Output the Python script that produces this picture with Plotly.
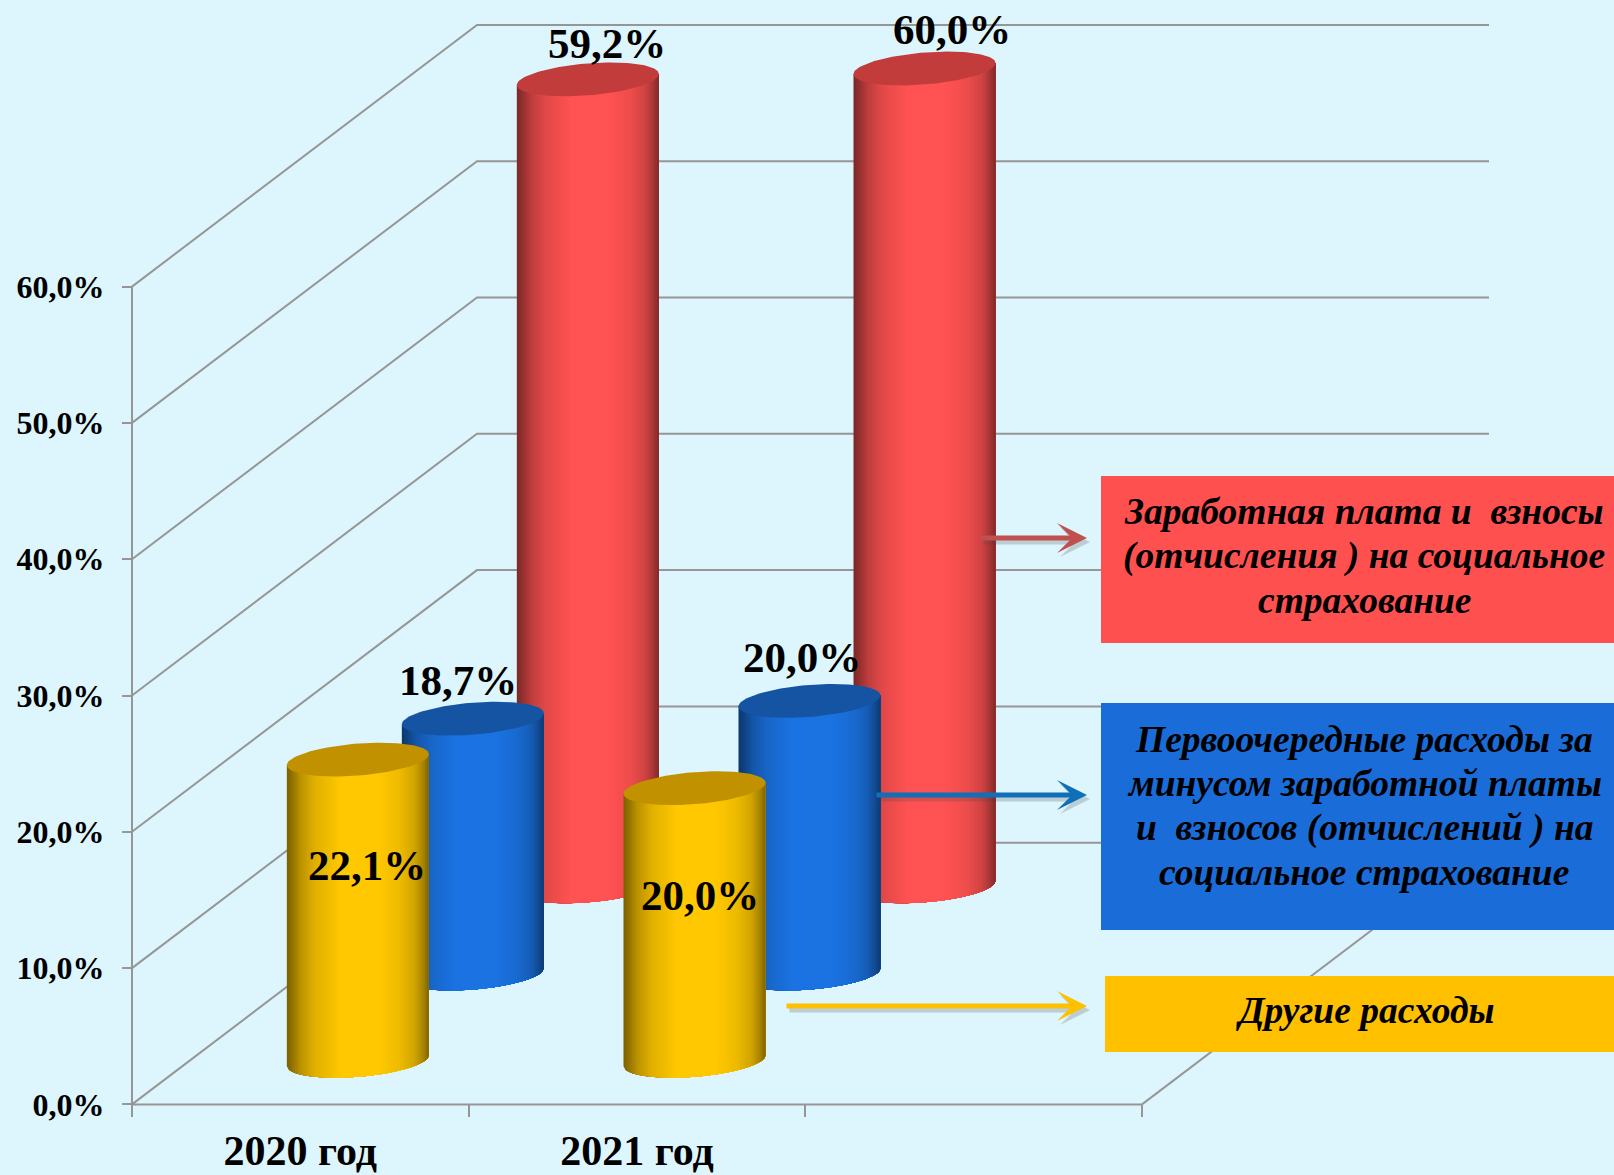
import numpy as np
import plotly.graph_objects as go

# ---- data ----
categories = ["2020 год", "2021 год"]
category_slots = 3
other_expenses = [22.1, 20.0]
priority_expenses = [18.7, 20.0]
salary_expenses = [59.2, 60.0]
y_tick_values = [0, 10, 20, 30, 40, 50, 60]
y_tick_labels = ["0,0%", "10,0%", "20,0%", "30,0%", "40,0%", "50,0%", "60,0%"]
salary_legend = ["Заработная плата и  взносы", "(отчисления ) на социальное", "страхование"]
priority_legend = ["Первоочередные расходы за", "минусом заработной платы",
                   "и  взносов (отчислений ) на", "социальное страхование"]
other_legend = ["Другие расходы"]

# ---- layout constants ----
W, H = 1614, 1175
BG = "#DDF5FC"
GRID = "#969696"
FONT = "Liberation Serif"
X0_PX, X3_PX = 132.0, 1142.0
Y0_PX, Y60_PX = 1104.4, 286.6
PX_PER_CAT = (X3_PX - X0_PX) / category_slots
PX_PER_PCT = (Y0_PX - Y60_PX) / 60
DEPTH_X = 345.0 / PX_PER_CAT
DEPTH_Y = 261.7 / PX_PER_PCT
RX = 71.0 / PX_PER_CAT
TILT = 5.5 / PX_PER_PCT
RY = 16.0 / PX_PER_PCT
WALL_EXTRA = 2.0 / PX_PER_CAT
x_range = [-X0_PX / PX_PER_CAT, (W - X0_PX) / PX_PER_CAT]
y_range = [-(H - Y0_PX) / PX_PER_PCT, Y0_PX / PX_PER_PCT]


def project(slot, value, depth):
    return slot + depth * DEPTH_X, value + depth * DEPTH_Y


def px(x):
    return x / W


def py(y):
    return 1 - y / H


def mix(rgb, f):
    return "rgb(%d,%d,%d)" % tuple(int(round(c * f)) for c in rgb)


fig = go.Figure()


def line_trace(xs, ys):
    fig.add_trace(go.Scatter(x=xs, y=ys, mode="lines", line=dict(color=GRID, width=2),
                             hoverinfo="skip", showlegend=False))


# ---- walls and floor ----
y_max = y_tick_values[-1]
for v in y_tick_values:
    x_a, y_a = project(0, v, 0)
    x_b, y_b = project(0, v, 1)
    x_c, y_c = project(category_slots, v, 1)
    line_trace([x_a, x_b, x_c + WALL_EXTRA], [y_a, y_b, y_c])
line_trace([0, 0], [0, y_max])
line_trace([0, category_slots], [0, 0])
fx0, fy0 = project(category_slots, 0, 0)
fx1, fy1 = project(category_slots, 0, 1)
line_trace([fx0, fx1], [fy0, fy1])

# ---- cylinders ----
SHADE_POS = [0.0, 0.04, 0.10, 0.20, 0.38, 0.65, 0.80, 0.90, 0.96, 1.0]
SHADE_VAL = [0.48, 0.58, 0.74, 0.88, 1.0, 1.0, 0.93, 0.82, 0.66, 0.50]
STRIPS = 70


def cylinder(slot, depth, value, rgb, top_color):
    cx, base = project(slot, 0, depth)
    for i in range(STRIPS):
        u0 = -1 + 2 * i / STRIPS
        us = np.linspace(u0, 1, 2 * (STRIPS - i) + 1)  # each strip reaches the far side; the next paints over it
        low = base + TILT * us - RY * np.sqrt(np.clip(1 - us ** 2, 0, 1))
        high = base + value + TILT * us
        xs = cx + RX * us
        col = mix(rgb, float(np.interp((i + 0.5) / STRIPS, SHADE_POS, SHADE_VAL)))
        fig.add_trace(go.Scatter(
            x=np.r_[xs, xs[::-1], xs[0]], y=np.r_[low, high[::-1], low[0]],
            mode="lines", fill="toself", fillcolor=col,
            line=dict(width=0), hoverinfo="skip", showlegend=False))
    t = np.linspace(0, 2 * np.pi, 121)
    ex = cx + RX * np.cos(t)
    ey = base + value + TILT * np.cos(t) + RY * np.sin(t)
    fig.add_trace(go.Scatter(x=ex, y=ey, mode="lines", fill="toself", fillcolor=top_color,
                             line=dict(width=0), hoverinfo="skip", showlegend=False))


series_styles = [
    (salary_expenses, 5 / 6, (255, 82, 82), "#C23C3C"),
    (priority_expenses, 3 / 6, (27, 115, 226), "#1553A3"),
    (other_expenses, 1 / 6, (255, 200, 0), "#C29100"),
]
for values, depth, rgb, top in series_styles:
    for k, v in enumerate(values):
        cylinder(k + 0.5, depth, v, rgb, top)

# ---- value labels ----
label_specs = [
    (salary_expenses, 5 / 6, [(19, -36), (27, -39)]),
    (priority_expenses, 3 / 6, [(-15, -38), (-8, -43)]),
    (other_expenses, 1 / 6, [(9, 106), (5, 107)]),
]
annotations = []
for values, depth, shifts in label_specs:
    for k, v in enumerate(values):
        ax, ay = project(k + 0.5, v, depth)
        annotations.append(dict(
            x=ax, y=ay, xref="x", yref="y", xshift=shifts[k][0], yshift=-shifts[k][1],
            text="<b>%s</b>" % ("%.1f%%" % v).replace(".", ","), showarrow=False,
            font=dict(family=FONT, size=43, color="black"),
            xanchor="center", yanchor="middle"))

# ---- legend boxes ----
LEGEND_FONT = 37.5
LINE_GAP = 44.6
boxes = [
    (1101, 476, 643, "#FF5050", 1364, 556, salary_legend),
    (1101, 703, 930, "#1A6DD9", 1364, 806, priority_legend),
    (1105, 976, 1052, "#FFC000", 1365, 1010, other_legend),
]
shapes = []
for x0, y0, y1, col, tx, ty, lines in boxes:
    shapes.append(dict(type="rect", xref="paper", yref="paper", x0=px(x0), x1=1,
                       y0=py(y1), y1=py(y0), fillcolor=col, line=dict(width=0), layer="above"))
    for i, line in enumerate(lines):
        annotations.append(dict(
            x=px(tx), y=py(ty + (i - (len(lines) - 1) / 2) * LINE_GAP), xref="paper", yref="paper",
            text="<b><i>%s</i></b>" % line, showarrow=False, xanchor="center", yanchor="middle",
            font=dict(family=FONT, size=LEGEND_FONT, color="black")))

# ---- arrows ----
arrows = [(979, 538, "#C0504D"), (875, 795, "#0F6FB8"), (785, 1006, "#FFC000")]
ARROW_TIP = 1087
for x0, y0, col in arrows:
    for dx, dy, c in [(3, 4, "rgba(70,70,70,0.22)"), (0, 0, col)]:
        annotations.append(dict(
            x=px(ARROW_TIP + dx), y=py(y0 + dy), xref="paper", yref="paper",
            ax=x0 - ARROW_TIP, ay=0, axref="pixel", ayref="pixel", text="",
            showarrow=True, arrowhead=3, arrowsize=1, arrowwidth=5, arrowcolor=c))

fig.update_layout(
    width=W, height=H, autosize=False,
    margin=dict(l=0, r=0, t=0, b=0, pad=0, autoexpand=False),
    paper_bgcolor=BG, plot_bgcolor=BG,
    showlegend=False,
    shapes=shapes, annotations=annotations,
    xaxis=dict(
        range=x_range, domain=[0, 1], anchor="free", position=py(Y0_PX), automargin=False,
        tickmode="array", tickvals=[i + 0.5 for i in range(len(categories))],
        ticktext=["<b>%s</b>" % c for c in categories],
        ticks="outside", ticklen=8, tickcolor="rgba(0,0,0,0)", ticklabelstandoff=1,
        tickfont=dict(family=FONT, size=42, color="black"),
        minor=dict(tickmode="array", tickvals=list(range(category_slots + 1)), ticks="outside",
                   ticklen=12, tickcolor=GRID, tickwidth=2, showgrid=False),
        showgrid=False, zeroline=False, showline=False, fixedrange=True),
    yaxis=dict(
        range=y_range, domain=[0, 1], anchor="free", position=px(X0_PX), automargin=False,
        tickmode="array", tickvals=y_tick_values,
        ticktext=["<b>%s</b>" % t for t in y_tick_labels],
        ticks="outside", ticklen=10, tickcolor=GRID, tickwidth=2, ticklabelstandoff=11,
        tickfont=dict(family=FONT, size=32, color="black"),
        showgrid=False, zeroline=False, showline=False, fixedrange=True),
)

fig.write_html("out.html", config={"displayModeBar": False},
               post_script="document.body.style.margin='0';")
